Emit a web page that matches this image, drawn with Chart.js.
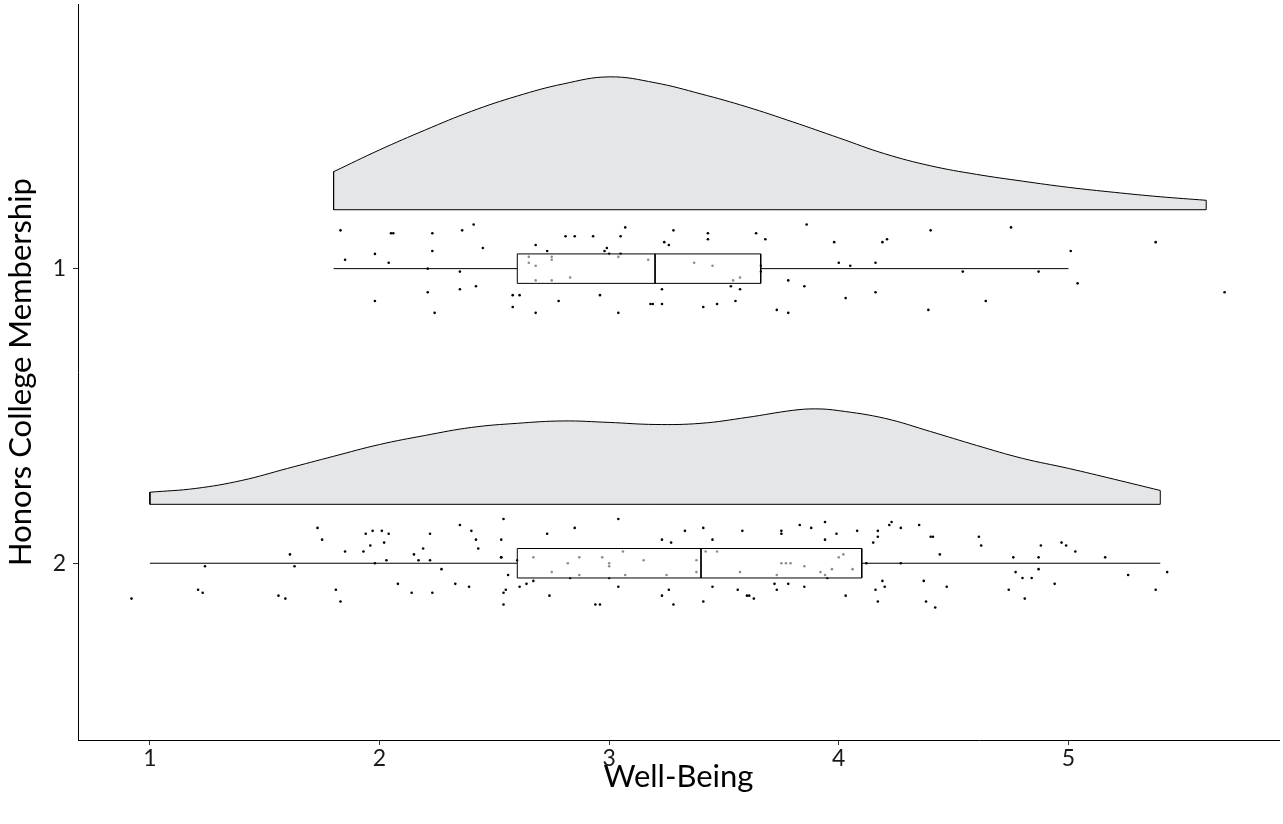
<!DOCTYPE html>
<html><head><meta charset="utf-8">
<script src="https://cdn.jsdelivr.net/npm/chart.js@4.4.1/dist/chart.umd.min.js"></script>
<style>html,body{margin:0;padding:0;background:#fff}#wrap{width:1283px;height:824px}</style>
</head><body><div id="wrap"><canvas id="c" width="1283" height="824"></canvas></div>
<script>
const groups = [1, 2];
const xTicks = [1, 2, 3, 4, 5];
const yTicks = [1, 2];
const xTitle = 'Well-Being';
const yTitle = 'Honors College Membership';

// density (half violin) curves, heights in category-axis units
const dens1X = [1.8,2.0,2.2,2.4,2.6,2.8,3.0,3.2,3.4,3.6,3.8,4.0,4.2,4.4,4.6,4.8,5.0,5.2,5.4,5.6];
const dens1Y = [0.129,0.203,0.271,0.334,0.386,0.427,0.451,0.431,0.393,0.349,0.298,0.244,0.190,0.149,0.120,0.097,0.076,0.059,0.044,0.032];
const dens2X = [1.0,1.2,1.4,1.6,1.8,2.0,2.2,2.4,2.6,2.8,3.0,3.2,3.4,3.6,3.8,3.9,4.0,4.2,4.4,4.6,4.8,5.0,5.2,5.4];
const dens2Y = [0.041,0.054,0.081,0.122,0.163,0.203,0.234,0.261,0.275,0.283,0.278,0.271,0.275,0.295,0.319,0.324,0.318,0.292,0.247,0.200,0.156,0.122,0.085,0.047];

// box plot summaries
const boxMin = [1.8, 1.0];
const boxQ1  = [2.6, 2.6];
const boxMed = [3.2, 3.4];
const boxQ3  = [3.66, 4.1];
const boxMax = [5.0, 5.4];

// jittered raw observations
const g1X = [1.83,1.85,1.98,1.98,2.04,2.05,2.06,2.21,2.21,2.23,2.23,2.24,2.35,2.35,2.36,2.41,2.42,2.45,2.58,2.61,2.58,2.68,2.68,2.73,2.78,2.81,2.85,2.93,2.96,2.98,2.99,3.04,3.05,3.07,3.18,3.19,3.23,3.23,3.24,3.26,3.28,3.41,3.43,3.43,3.47,3.53,3.55,3.57,3.64,3.66,3.66,3.68,3.73,3.78,3.78,3.85,3.86,3.98,4.00,4.05,4.16,4.19,4.21,4.03,4.16,4.40,4.39,4.54,4.64,4.75,4.87,5.01,5.04,5.38,5.68,2.65,2.65,2.68,2.68,2.75,2.75,2.75,2.83,3.00,3.04,3.05,3.17,3.37,3.45,3.54,3.57];
const g1Y = [0.87,0.97,0.95,1.11,0.98,0.88,0.88,1.00,1.08,0.88,0.94,1.15,1.07,1.01,0.87,0.85,1.06,0.93,1.09,1.09,1.13,0.92,1.15,0.94,1.11,0.89,0.89,0.89,1.09,0.94,0.93,1.15,0.89,0.86,1.12,1.12,1.12,1.07,0.91,0.92,0.87,1.13,0.88,0.90,1.12,1.06,1.11,1.07,0.88,0.99,1.01,0.90,1.14,1.04,1.15,1.06,0.85,0.91,0.98,0.99,0.98,0.91,0.90,1.10,1.08,0.87,1.14,1.01,1.11,0.86,1.01,0.94,1.05,0.91,1.08,0.96,0.98,0.99,1.04,0.96,0.97,1.04,1.03,0.95,0.96,0.95,0.97,0.98,0.99,1.04,1.03];
const g2X = [0.92,1.21,1.23,1.24,1.56,1.59,1.61,1.63,1.73,1.75,1.81,1.83,1.85,1.93,1.94,1.96,1.97,1.98,2.01,2.02,2.03,2.04,2.08,2.14,2.15,2.17,2.19,2.22,2.22,2.23,2.27,2.33,2.35,2.39,2.40,2.42,2.43,2.53,2.53,2.53,2.54,2.54,2.55,2.54,2.56,2.60,2.61,2.64,2.67,2.73,2.74,2.85,2.94,
 2.96,3.04,3.00,3.04,3.23,3.27,3.33,3.23,3.26,3.28,3.41,3.45,3.45,3.41,3.56,3.58,3.60,3.61,3.63,3.72,3.73,3.75,3.75,3.78,3.83,3.85,3.88,3.94,3.94,3.95,3.99,4.03,4.08,4.12,4.15,4.16,4.17,4.17,4.17,4.19,4.20,4.22,4.23,4.27,4.27,4.35,4.37,4.38,4.42,4.40,4.41,4.44,4.47,4.61,4.62,4.74,4.76,4.77,4.80,4.81,4.84,4.87,4.87,4.88,4.94,4.97,4.99,5.03,5.16,5.26,5.38,5.43,
 2.67,2.75,2.82,2.83,2.87,2.87,2.97,3.00,3.00,3.06,3.07,3.15,3.25,3.38,3.38,3.42,3.47,3.57,3.75,3.77,3.79,3.85,3.73,3.92,3.94,3.97,4.00,4.02,4.06];
const g2Y = [2.12,2.09,2.10,2.01,2.11,2.12,1.97,2.01,1.88,1.92,2.09,2.13,1.96,1.96,1.90,1.94,1.89,2.00,1.89,1.93,1.99,1.90,2.07,2.10,1.97,1.99,1.95,1.90,1.99,2.10,2.02,2.07,1.87,2.08,1.89,1.92,1.95,1.92,1.98,1.98,1.85,2.10,2.09,2.14,2.04,1.99,2.08,2.07,2.06,1.90,2.11,1.88,2.14,
 2.14,1.85,2.05,2.08,1.92,1.93,1.89,2.11,2.09,2.14,1.88,1.92,2.08,2.13,2.09,1.89,2.11,2.11,2.12,2.07,2.09,1.89,1.90,2.07,1.87,2.08,1.88,1.86,1.92,2.05,1.90,2.11,1.89,2.00,1.93,2.09,1.89,1.91,2.13,2.06,2.08,1.87,1.86,1.88,2.00,1.87,2.06,2.13,2.15,1.91,1.91,1.97,2.08,1.91,1.94,2.09,1.98,2.03,2.05,2.12,2.05,2.02,1.98,1.94,2.07,1.93,1.94,1.96,1.98,2.04,2.09,2.03,
 1.98,2.03,2.00,2.05,1.98,2.04,1.98,2.00,2.01,1.96,2.04,1.99,2.04,1.99,2.03,1.96,1.96,2.03,2.00,2.00,2.00,2.01,2.04,2.03,2.04,2.02,1.98,1.97,2.02];

const FONT = "Lato, 'Open Sans', sans-serif";
const NUDGE = 0.2, HALF = 0.05;
const FILL = 'rgb(229,230,232)';
const densX = [dens1X, dens2X], densY = [dens1Y, dens2Y];
const ptsX = [g1X, g2X], ptsY = [g1Y, g2Y];

const datasets = [];
const lineBase = {type:'scatter', showLine:true, pointRadius:0, borderColor:'#000', borderWidth:1, fill:false, tension:0};
groups.forEach((g, gi) => {
  const base = g - NUDGE;
  const dx = densX[gi], dy = densY[gi];
  datasets.push(Object.assign({}, lineBase, {
    data: dx.map((x, i) => ({x, y: base - dy[i]})),
    fill: {value: base}, backgroundColor: FILL, tension: 0.4, order: 5
  }));
  const n = dx.length - 1;
  datasets.push(Object.assign({}, lineBase, {
    data: [{x: dx[0], y: base - dy[0]}, {x: dx[0], y: base}, {x: dx[n], y: base}, {x: dx[n], y: base - dy[n]}],
    order: 4
  }));
  datasets.push({
    type:'scatter', data: ptsX[gi].map((x, i) => ({x, y: ptsY[gi][i]})),
    pointRadius: 1.3, pointBackgroundColor:'#000', pointBorderWidth:0, order: 3
  });
  datasets.push(Object.assign({}, lineBase, {data: [{x: boxMin[gi], y: g}, {x: boxQ1[gi], y: g}], order: 2}));
  datasets.push(Object.assign({}, lineBase, {data: [{x: boxQ3[gi], y: g}, {x: boxMax[gi], y: g}], order: 2}));
  datasets.push(Object.assign({}, lineBase, {
    data: [{x: boxQ1[gi], y: g - HALF}, {x: boxQ3[gi], y: g - HALF}, {x: boxQ3[gi], y: g + HALF}, {x: boxQ1[gi], y: g + HALF}, {x: boxQ1[gi], y: g - HALF}],
    fill: 'shape', backgroundColor: 'rgba(255,255,255,0.55)', order: 1
  }));
  datasets.push(Object.assign({}, lineBase, {
    data: [{x: boxMed[gi], y: g - HALF}, {x: boxMed[gi], y: g + HALF}], order: 0
  }));
});

new Chart(document.getElementById('c'), {
  type: 'scatter',
  data: {datasets},
  options: {
    responsive: false, animation: false, devicePixelRatio: 1, events: [],
    layout: {padding: {top: 3, right: 2, left: 0, bottom: 28}},
    plugins: {legend: {display: false}, tooltip: {enabled: false}},
    scales: {
      x: {
        type: 'linear', min: 0.687, max: 5.917,
        afterBuildTicks: a => { a.ticks = xTicks.map(v => ({value: v})); },
        afterFit: s => { s.height = 56; s.paddingLeft = 0; s.paddingRight = 0; },
        grid: {drawOnChartArea: false, tickLength: 5, color: '#333', lineWidth: 1},
        border: {display: true, color: '#000', width: 1},
        ticks: {font: {family: FONT, size: 23}, color: '#1a1a1a', padding: 0, maxRotation: 0},
        title: {display: true, text: xTitle, font: {family: FONT, size: 31}, color: '#000', padding: {top: 0, bottom: 0}}
      },
      y: {
        type: 'linear', reverse: true, min: 0.1017, max: 2.6,
        afterBuildTicks: a => { a.ticks = yTicks.map(v => ({value: v})); },
        afterFit: s => { s.width = 78; s.paddingTop = 0; s.paddingBottom = 0; },
        grid: {drawOnChartArea: false, tickLength: 5, color: '#333', lineWidth: 1},
        border: {display: true, color: '#000', width: 1},
        ticks: {font: {family: FONT, size: 23}, color: '#1a1a1a', padding: 7},
        title: {display: true, text: yTitle, font: {family: FONT, size: 31}, color: '#000', padding: {top: 2, bottom: 0}}
      }
    }
  }
});
</script></body></html>
